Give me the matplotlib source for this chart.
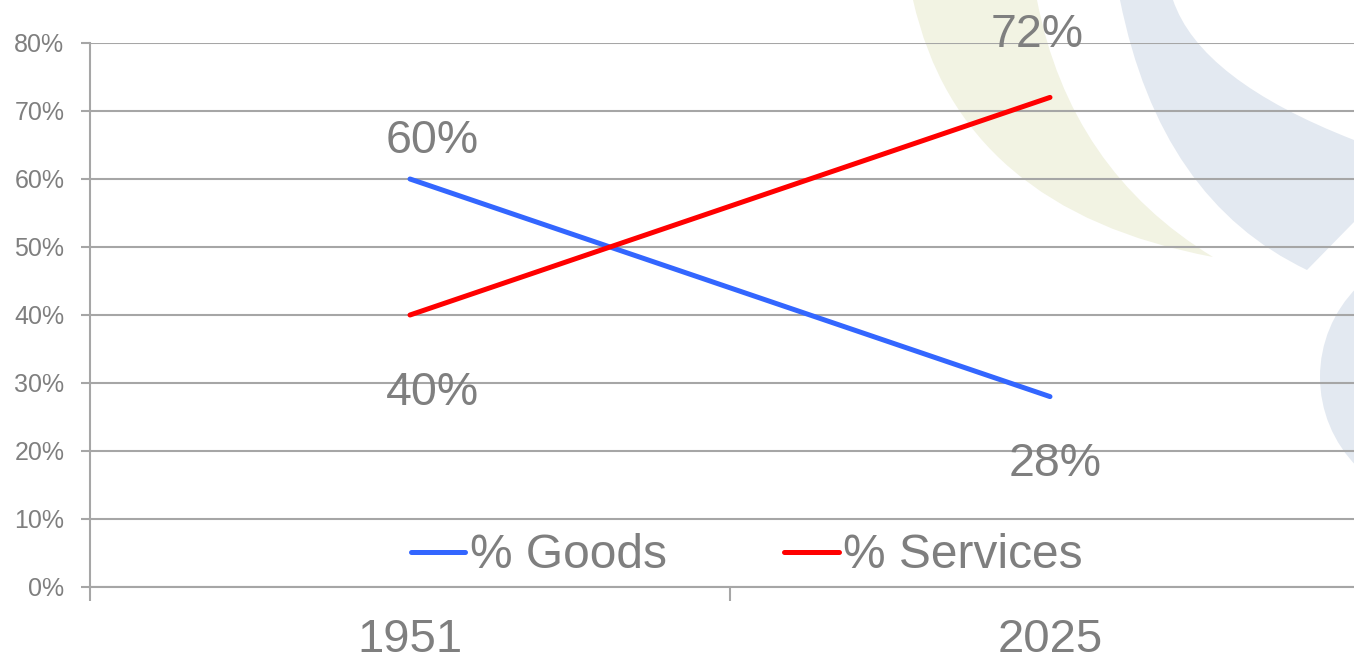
import numpy as np
import matplotlib
matplotlib.use("Agg")
import matplotlib.pyplot as plt
from matplotlib.path import Path
from matplotlib.patches import PathPatch, Circle
from matplotlib.ticker import FixedLocator, NullFormatter, FixedFormatter

# share of output, goods vs services
years = ['1951', '2025']
goods = [60, 28]
services = [40, 72]
y_ticks = [0, 10, 20, 30, 40, 50, 60, 70, 80]

W, H = 1354, 664
GRAY = '#7f7f7f'
GRID = '#a6a6a6'

plt.rcParams['font.family'] = ['Liberation Sans', 'DejaVu Sans']

fig = plt.figure(figsize=(W / 100, H / 100), dpi=100)
fig.patch.set_facecolor('white')


def px(x, y):
    # pixel position (from top-left) to figure fraction
    return (x / W, 1 - y / H)


def band(points):
    verts = [px(*p) for p in points]
    codes = [Path.MOVETO, Path.CURVE3, Path.CURVE3, Path.LINETO,
             Path.LINETO, Path.CURVE3, Path.CURVE3, Path.CLOSEPOLY]
    verts.append(verts[0])
    return Path(verts, codes)


# faint slide decoration behind the chart
yellow = band([(913, 0), (960, 210), (1213, 257), (1213, 257),
               (1213, 257), (1070, 170), (1037, 0)])
blue = band([(1120, 0), (1160, 200), (1307, 270), (1354, 222),
             (1354, 140), (1200, 80), (1173, 0)])
fig.patches.append(PathPatch(yellow, transform=fig.transFigure,
                             facecolor='#f2f3e3', edgecolor='none', zorder=-2))
fig.patches.append(PathPatch(blue, transform=fig.transFigure,
                             facecolor='#e3e9f1', edgecolor='none', zorder=-2))
cx, cy = px(1447, 377)
fig.patches.append(Circle((cx * W, cy * H), 127, transform=None,
                          facecolor='#e3e9f1', edgecolor='none', zorder=-2))

ax = fig.add_axes([90 / W, 77 / H, 1280 / W, 544 / H])
ax.set_facecolor('none')

x = np.array([0.5, 1.5])
ax.plot(x, goods, color='#3366ff', lw=3.6, solid_capstyle='round',
        label='% Goods', zorder=3)
ax.plot(x, services, color='#ff0000', lw=3.6, solid_capstyle='round',
        label='% Services', zorder=3)

# value labels next to the line ends
offsets_goods = [(16, 19), (4, -57)]
offsets_services = [(16, -65), (-9, 36)]
for xi, v, off in zip(x, goods, offsets_goods):
    ax.annotate(f'{v}%', (xi, v), xytext=off, textcoords='offset points',
                ha='center', va='baseline', fontsize=33.5, color=GRAY)
for xi, v, off in zip(x, services, offsets_services):
    ax.annotate(f'{v}%', (xi, v), xytext=off, textcoords='offset points',
                ha='center', va='baseline', fontsize=33.5, color=GRAY)

ax.set_xlim(0, 2)
ax.set_ylim(0, 80)
ax.set_yticks(y_ticks)
ax.set_yticklabels([f'{t}%' for t in y_ticks])
ax.tick_params(axis='y', length=6.5, width=1.5, color=GRID, pad=12,
               labelsize=18, labelcolor=GRAY)

ax.xaxis.set_major_locator(FixedLocator([0, 1, 2]))
ax.xaxis.set_major_formatter(NullFormatter())
ax.xaxis.set_minor_locator(FixedLocator(x))
ax.xaxis.set_minor_formatter(FixedFormatter(years))
ax.tick_params(axis='x', which='major', length=10, width=1.5, color=GRID)
ax.tick_params(axis='x', which='minor', length=0, pad=22,
               labelsize=34, labelcolor=GRAY)

ax.grid(axis='y', color=GRID, lw=1.5, zorder=1)
ax.set_axisbelow(True)
for side in ['top', 'right']:
    ax.spines[side].set_visible(False)
for side in ['left', 'bottom']:
    ax.spines[side].set_color(GRID)
    ax.spines[side].set_linewidth(1.5)

ax.legend(loc='center', bbox_to_anchor=px(747, 556),
          bbox_transform=fig.transFigure, ncol=2, frameon=False,
          fontsize=34.5, labelcolor=GRAY, handlelength=1.13,
          handletextpad=0.1, columnspacing=2.45)

fig.savefig('out.png', dpi=100)
